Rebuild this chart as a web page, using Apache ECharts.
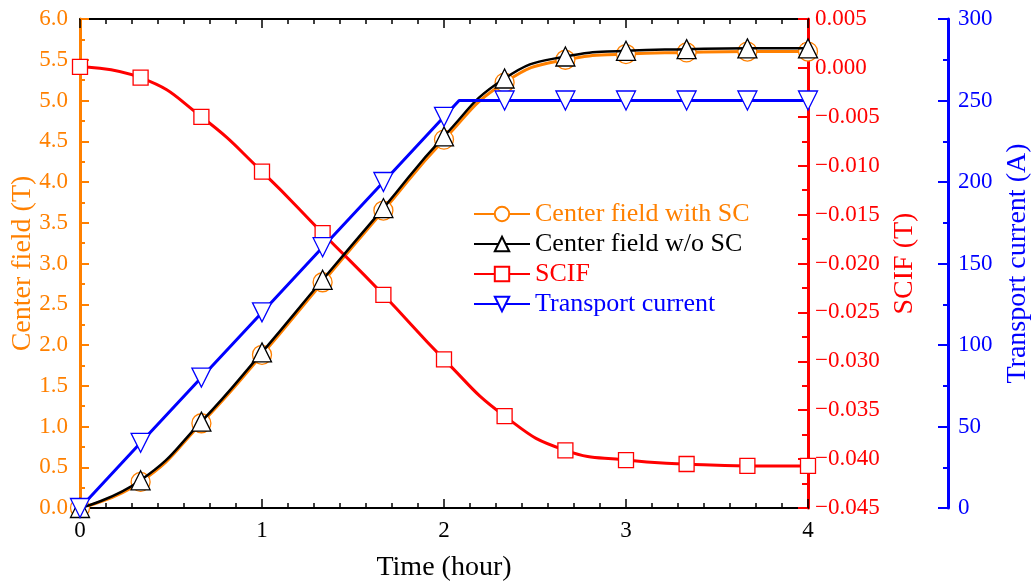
<!DOCTYPE html>
<html>
<head>
<meta charset="utf-8">
<script src="https://cdn.jsdelivr.net/npm/echarts@6/dist/echarts.min.js"></script>
<style>
html, body { margin: 0; padding: 0; background: #fff; }
#main { width: 1033px; height: 586px; }
</style>
</head>
<body>
<div id="main"></div>
<script>
// marker times (hour)
var times = [0, 0.333, 0.667, 1, 1.333, 1.667, 2, 2.333, 2.667, 3, 3.333, 3.667, 4];
// center field with SC (T)
var fieldSC = [0, 0.32, 1.04, 1.88, 2.77, 3.65, 4.52, 5.22, 5.50, 5.57, 5.59, 5.60, 5.60];
// center field w/o SC (T)
var fieldNoSC = [0, 0.34, 1.06, 1.91, 2.80, 3.68, 4.56, 5.27, 5.54, 5.61, 5.63, 5.64, 5.64];
// SCIF (T)
var scif = [0.0001, -0.0010, -0.0050, -0.0106, -0.0169, -0.0232, -0.0298, -0.0356, -0.0391, -0.0401, -0.0405, -0.0407, -0.0407];
// transport current (A)
var current = [0, 40, 80, 120, 160, 200, 240, 250, 250, 250, 250, 250, 250];
// ramp end of transport current
var rampEnd = [2.083, 250];

var FONT = 'Liberation Serif';
var ORANGE = '#FF8000';

function pairs(xs, ys) {
    var out = [];
    for (var i = 0; i < xs.length; i++) out.push([xs[i], ys[i]]);
    return out;
}

var currentData = [];
for (var i = 0; i < times.length; i++) {
    currentData.push([times[i], current[i]]);
    if (times[i] === 2) currentData.push({value: rampEnd, symbol: 'none'});
}

var myChart = echarts.init(document.getElementById('main'));

var option = {
    animation: false,
    textStyle: {fontFamily: FONT},
    grid: {left: 80, right: 225, top: 19, bottom: 78, outerBoundsMode: 'none', containLabel: false},
    legend: {
        orient: 'vertical',
        left: 468,
        top: 196,
        itemWidth: 56,
        itemHeight: 18,
        itemGap: 4,
        data: [
            {name: 'Center field with SC', textStyle: {color: ORANGE}},
            {name: 'Center field w/o SC', textStyle: {color: '#000'}},
            {name: 'SCIF', textStyle: {color: '#FF0000'}},
            {name: 'Transport current', textStyle: {color: '#0000FF'}}
        ],
        textStyle: {fontFamily: FONT, fontSize: 26}
    },
    xAxis: [
        {
            type: 'value', min: 0, max: 4, interval: 1,
            name: 'Time (hour)', nameLocation: 'middle', nameGap: 46, nameMoveOverlap: false,
            nameTextStyle: {fontFamily: FONT, fontSize: 28, color: '#000', verticalAlign: 'top'},
            axisLine: {onZero: false, lineStyle: {color: '#000', width: 2}},
            axisTick: {inside: true, length: 9, lineStyle: {color: '#000', width: 1.5}},
            minorTick: {show: true, splitNumber: 7, length: 5, lineStyle: {color: '#000', width: 1.5}},
            axisLabel: {fontFamily: FONT, fontSize: 23, color: '#000', margin: 11},
            splitLine: {show: false}
        },
        {
            type: 'value', min: 0, max: 4, interval: 1, position: 'top',
            axisLine: {onZero: false, lineStyle: {color: '#000', width: 2}},
            axisTick: {inside: true, length: 9, lineStyle: {color: '#000', width: 1.5}},
            minorTick: {show: true, splitNumber: 7, length: 5, lineStyle: {color: '#000', width: 1.5}},
            axisLabel: {show: false},
            splitLine: {show: false}
        }
    ],
    yAxis: [
        {
            type: 'value', min: 0, max: 6, interval: 0.5, position: 'left',
            name: 'Center field (T)', nameLocation: 'middle', nameGap: 43, nameRotate: 90,
            nameMoveOverlap: false,
            nameTextStyle: {fontFamily: FONT, fontSize: 28, color: ORANGE},
            axisLine: {show: true, onZero: false, lineStyle: {color: ORANGE, width: 3}},
            axisTick: {inside: true, length: 9, lineStyle: {color: ORANGE, width: 2}},
            minorTick: {show: true, splitNumber: 2, length: 5, lineStyle: {color: ORANGE, width: 2}},
            axisLabel: {fontFamily: FONT, fontSize: 23, color: ORANGE, margin: 12,
                formatter: function (v) { return v.toFixed(1); }},
            splitLine: {show: false}
        },
        {
            type: 'value', min: -0.045, max: 0.005, interval: 0.005, position: 'right',
            name: 'SCIF (T)', nameLocation: 'middle', nameGap: 82, nameRotate: 90,
            nameTextStyle: {fontFamily: FONT, fontSize: 28, color: '#FF0000'},
            axisLine: {show: true, onZero: false, lineStyle: {color: '#FF0000', width: 3}},
            axisTick: {inside: true, length: 10, lineStyle: {color: '#FF0000', width: 2}},
            minorTick: {show: true, splitNumber: 2, length: 6, lineStyle: {color: '#FF0000', width: 2}},
            axisLabel: {fontFamily: FONT, fontSize: 23, color: '#FF0000', margin: 7,
                formatter: function (v) {
                    var s = Math.abs(v).toFixed(3);
                    return (v < -1e-9 ? '\u2212' : '') + s;
                }},
            splitLine: {show: false}
        },
        {
            type: 'value', min: 0, max: 300, interval: 50, position: 'right', offset: 140,
            name: 'Transport current (A)', nameLocation: 'middle', nameGap: 53, nameRotate: 90,
            nameTextStyle: {fontFamily: FONT, fontSize: 28, color: '#0000FF'},
            axisLine: {show: true, onZero: false, lineStyle: {color: '#0000FF', width: 3}},
            axisTick: {inside: true, length: 10, lineStyle: {color: '#0000FF', width: 2}},
            minorTick: {show: true, splitNumber: 2, length: 5, lineStyle: {color: '#0000FF', width: 2}},
            axisLabel: {fontFamily: FONT, fontSize: 23, color: '#0000FF', margin: 10},
            splitLine: {show: false}
        }
    ],
    series: [
        {
            name: 'Center field with SC', type: 'line', xAxisIndex: 0, yAxisIndex: 0,
            data: pairs(times, fieldSC), smooth: 0.5,
            symbol: 'circle', symbolSize: 19,
            lineStyle: {color: ORANGE, width: 3},
            itemStyle: {color: '#fff', borderColor: ORANGE, borderWidth: 1.3},
            z: 2
        },
        {
            name: 'Center field w/o SC', type: 'line', xAxisIndex: 0, yAxisIndex: 0,
            data: pairs(times, fieldNoSC), smooth: 0.5,
            symbol: 'triangle', symbolSize: 19,
            lineStyle: {color: '#000', width: 2.5},
            itemStyle: {color: '#fff', borderColor: '#000', borderWidth: 1.3},
            z: 3
        },
        {
            name: 'SCIF', type: 'line', xAxisIndex: 0, yAxisIndex: 1,
            data: pairs(times, scif), smooth: 0.5,
            symbol: 'rect', symbolSize: 15,
            lineStyle: {color: '#FF0000', width: 3},
            itemStyle: {color: '#fff', borderColor: '#FF0000', borderWidth: 1.3},
            z: 2
        },
        {
            name: 'Transport current', type: 'line', xAxisIndex: 0, yAxisIndex: 2,
            data: currentData,
            symbol: 'triangle', symbolRotate: 180, symbolSize: 19,
            lineStyle: {color: '#0000FF', width: 3},
            itemStyle: {color: '#fff', borderColor: '#0000FF', borderWidth: 1.3},
            z: 4
        }
    ]
};

myChart.setOption(option);
</script>
</body>
</html>
